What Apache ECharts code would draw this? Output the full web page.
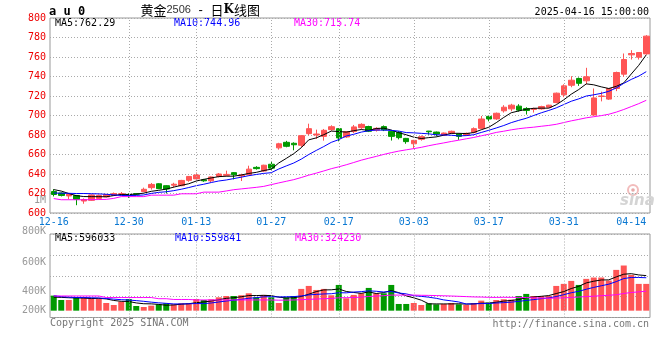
<!DOCTYPE html>
<html><head><meta charset="utf-8">
<script src="https://cdn.jsdelivr.net/npm/echarts@6/dist/echarts.min.js"></script>
<style>html,body{margin:0;padding:0;background:#fff}#c{width:660px;height:360px}</style>
</head><body><div id="c"></div>
<script>
const dates = ['12-16','12-17','12-18','12-19','12-20','12-23','12-24','12-25','12-26','12-27','12-30','12-31',
'01-02','01-03','01-06','01-07','01-08','01-09','01-10','01-13','01-14','01-15','01-16','01-17','01-20','01-21','01-22','01-23','01-24','01-27',
'02-05','02-06','02-07','02-10','02-11','02-12','02-13','02-14','02-17','02-18','02-19','02-20','02-21','02-24','02-25','02-26','02-27','02-28',
'03-03','03-04','03-05','03-06','03-07','03-10','03-11','03-12','03-13','03-14','03-17','03-18','03-19','03-20','03-21','03-24','03-25','03-26','03-27','03-28','03-31',
'04-01','04-02','04-03','04-07','04-08','04-09','04-10','04-11','04-14','04-15','04-16'];

const opens = [622,620.5,617.5,618,612.3,613,615,616.5,618,619.2, 619,619.8,622,626,630,628,628.5,628,633.5,635,
 634,633,637.5,638.6,641.4,638,639.3,646.8,643,650, 666.8,672.5,671.5,669.5,681.4,680,678.6,685.5,686.5,678,
 683.5,687.5,688.7,685,688.6,683.7,682.7,676.5,671,675.6, 684,683,679.7,681.7,681,679.7,682.7,686.8,699.1,696.5,
 704.8,706.8,709.6,707.2,706.2,706.8,708.5,713.3,721.2,731, 738,735.6,700.5,719.5,716.8,727.7,742.4,762.2,759.8,763.2];
const closes = [619,618,619.5,614,613.8,618.5,618,619,620,619.8, 618.5,619.3,624.3,629.3,625,624.6,629.5,633.4,637.5,639,
 633,637,640,639.6,639.3,639,645,645.5,649,646, 671,668.4,670,679.3,686.5,681,684.8,688.5,677,683.5,
 688.3,690.9,683.8,686.8,685.3,678.6,677.3,673.2,674.5,678.3, 683.3,681,682,683.8,678.6,681.7,686.5,696.4,696.4,702.3,
 708.5,710.6,705.5,705.1,707.2,709.2,710.6,722.9,730.4,736.2, 733,739.7,718,720,727.7,744.1,757.4,763.6,764.6,781.4];
const lows = [617,617,614,608,609.5,612.5,614,616,617.5,618, 615.5,618.5,621.5,624,624.5,620,626,627.5,632,633.5,
 632,631.5,636.5,637.6,634.5,632.8,638.5,644.5,642,644.5, 665,667.4,664.3,667.4,679.7,676,674.2,684.4,673.5,677,
 682,686,683,683.5,684,674.3,675.5,671,666,674.2, 680.3,678.6,679,681,675,679,681.7,686,694,695.5,
 703,704.4,704,701,703,706,707.8,712.5,718.8,729, 730.4,732,700,714.5,716,725,739.7,757.4,757.4,762.5];
const highs = [624.5,621,620,618.5,615,619,619,619.5,621,621.5, 620,620.5,626,630.8,630.5,628.5,631,634,638,641.5,
 635,637.5,641,643.4,642,640.3,648.5,648,649.5,652.3, 672,674,672.5,680,691.6,685.5,686.2,690,687,684,
 690.3,692,689.5,688,689.8,684.5,684,677,675,679.5, 684.2,683.5,682.5,684.5,681.5,682.5,687.8,699.5,699.5,703,
 710.6,712,711.6,708.5,708,710,711,723.5,732,740.3, 739,748.9,727.7,724.5,728,745,763.6,767,765,782.4];

const ma5 = [624,622.5,620,617.8,616.86,616.76,616.76,616.66,617.86,619.06, 619.06,619.32,620.38,622.24,623.28,624.5,626.54,628.36,630,632.8,
 634.48,635.98,637.3,637.72,637.78,638.98,640.58,641.68,643.56,644.9, 651.3,655.98,660.88,666.94,675.04,677.04,680.32,684.02,683.56,682.96,
 684.42,685.64,684.7,686.66,687.02,685.08,682.36,680.24,677.78,676.38, 677.32,678.06,679.82,681.68,681.74,681.42,682.52,685.4,687.92,692.66,
 698.02,702.84,704.66,706.4,707.38,707.52,707.52,711,716.06,721.86, 726.62,732.44,731.46,729.38,727.68,729.9,733.44,742.56,751.48,762.22];
const ma10 = [620.5,620.3,620.2,620,620,619.8,619.6,619.2,618.6,617.96, 617.91,618.04,618.52,620.05,621.17,621.78,622.93,624.37,626.12,628.04,
 629.49,631.26,632.83,633.86,635.29,636.73,638.28,639.49,640.64,641.34, 645.14,648.28,651.28,655.25,659.97,664.17,668.15,672.45,675.25,679,
 680.73,682.98,684.36,685.11,684.99,684.75,684,682.47,682.22,681.7, 681.2,680.21,680.03,679.73,679.06,679.37,680.29,682.61,684.8,687.2,
 689.72,692.68,695.03,697.16,700.02,702.77,705.18,707.83,711.23,714.62, 717.07,719.98,721.23,722.72,724.77,728.26,732.94,737.01,740.43,744.95];
const ma30 = [614.8,613.6,613.6,613.6,613.6,613.7,613.8,614,615,616.8, 616.8,616.8,616.8,618.3,618.3,618.3,618.3,619.7,619.7,619.7,
 621.4,621.4,621.4,622.6,623.9,624.7,625.5,626.3,627.3,629.11, 630.85,632.53,634.21,636.39,638.81,640.89,643.12,645.44,647.34,649.46,
 651.79,654.17,656.16,658.07,660.08,661.88,663.48,664.8,666.04,667.35, 669.02,670.49,671.89,673.36,674.67,676.1,677.48,679.18,680.76,682.63,
 683.88,685.29,686.47,687.33,688.02,688.96,689.82,690.97,692.75,694.51, 696,697.62,698.76,699.87,701.28,703.47,706.14,709.15,712.15,715.59];

const volumes = [258000,183000,183000,229000,229000,212000,206000,132000,97000,155000,
 200000,80000,63000,86000,109000,126000,109000,126000,126000,200000,
 183000,195000,229000,252000,252000,264000,298000,229000,270000,229000,
 132000,229000,252000,373000,424000,355000,373000,264000,441000,212000,
 270000,298000,390000,298000,298000,441000,115000,115000,132000,97000,
 126000,109000,115000,132000,109000,97000,132000,172000,138000,183000,
 195000,189000,252000,287000,252000,252000,252000,424000,459000,510000,
 441000,545000,568000,568000,516000,699000,774000,613000,459000,459000];
const vma5 = [232000,228000,222000,218000,216400,207200,211800,201600,175200,160400,
 158000,132800,119000,116800,107600,92800,98600,111200,119200,137400,
 148800,166000,186600,211800,222200,238400,259000,259000,262600,258000,
 231600,217800,222400,243000,282000,326600,355400,357800,371400,329000,
 312000,297000,322200,293600,310800,345000,308400,253400,220200,180000,
 117000,115800,115800,115800,118200,112400,117000,128400,129600,144400,
 164000,175400,191400,221200,235000,246400,259000,293400,327800,379400,
 417200,475800,504600,526400,527600,579200,625000,634000,612200,600800];
const vma10 = [255000,240000,232000,226000,224000,222000,218000,208000,198000,188400,
 182600,172300,160300,146000,134000,125400,115700,115100,118000,122500,
 120800,132300,148900,165500,179800,193600,212500,222800,237200,240100,
 235000,238400,240700,252800,270000,279100,286600,290100,307200,305500,
 319300,326200,340000,332500,319900,328500,302700,287800,256900,245400,
 231000,212100,184600,168000,149100,114700,116400,122100,122700,131300,
 138200,146200,159900,175400,189700,205200,217200,242400,274500,307200,
 331800,367400,399000,427100,453500,498200,550400,569300,569300,564200];
const vma30 = [252000,252000,252000,252000,252000,252000,252000,225000,225000,225000,
 225000,225000,225000,225000,205000,205000,192000,192000,192000,184000,
 184000,184000,184000,184000,184000,184000,184000,184000,184000,183700,
 179500,181000,183300,188100,194600,199400,204900,209300,220800,222700,
 225000,232300,243200,250300,256600,267100,267300,266900,267100,263700,
 261800,258900,255100,251100,246300,240800,235200,233300,228900,227400,
 229500,228200,228200,225300,219600,216100,212100,217400,218000,228000,
 233700,241900,247800,256800,264100,272700,294700,311300,322200,334200];

const xLabelDates = ['12-16','12-30','01-13','01-27','02-17','03-03','03-17','03-31','04-14'];
const gridDates = ['12-30','01-13','01-27','02-17','03-03','03-17','03-31'];
const priceLegend = ['MA5:762.29','MA10:744.96','MA30:715.74'];
const volLegend = ['MA5:596033','MA10:559841','MA30:324230'];
const volTickLabels = ['1M','800K','600K','400K','200K'];

const UP = '#ff5555', DOWN = '#009900';
const MONO = '"DejaVu Sans Mono", "Liberation Mono", monospace';
const maColors = ['#000000','#0000ff','#ff00ff'];
const dotted = {color:'#aaaaaa', type:[1,2], width:1};

const chart = echarts.init(document.getElementById('c'));

const vLine = (xi, yi) => ({
  type:'line', xAxisIndex:xi, yAxisIndex:yi, data: dates.map(()=>null), z:1, silent:true,
  markLine:{silent:true, symbol:['none','none'], label:{show:false}, lineStyle:dotted, animation:false,
    emphasis:{disabled:true}, data: gridDates.map(d=>({xAxis:d}))}
});
const maLine = (data, color, xi, yi) => ({
  type:'line', xAxisIndex:xi, yAxisIndex:yi, data, showSymbol:false, symbol:'none', silent:true, z:4,
  lineStyle:{color, width:1}, itemStyle:{color}
});

const volLabelY = [200, 231.5, 262, 291, 310];
const graphics = [
  {type:'text', x:49, y:11.5, style:{text:'a u 0', font:'bold 12px '+MONO, fill:'#000', verticalAlign:'middle', textVerticalAlign:'middle'}},
  {type:'text', x:140.5, y:10, style:{text:'{a|黄金}{b|2506}{c| - }{a|日}{k|K}{a|线图}', verticalAlign:'middle', textVerticalAlign:'middle',
     rich:{a:{font:'13px "Noto Sans CJK SC"', fill:'#000'}, b:{font:'11px "Liberation Sans"', fill:'#333'},
           c:{font:'13px "Liberation Sans"', fill:'#000', padding:[0,4,0,4]}, k:{font:'bold 12px "DejaVu Serif"', fill:'#000'}}}},
  {type:'text', x:649, y:12, style:{text:'2025-04-16 15:00:00', font:'10px '+MONO, fill:'#000', align:'right', textAlign:'right', verticalAlign:'middle', textVerticalAlign:'middle'}},
  {type:'text', x:50, y:323.5, style:{text:'Copyright 2025 SINA.COM', font:'10px '+MONO, fill:'#777', verticalAlign:'middle', textVerticalAlign:'middle'}},
  {type:'text', x:649, y:324, style:{text:'http://finance.sina.com.cn', font:'10px '+MONO, fill:'#777', align:'right', textAlign:'right', verticalAlign:'middle', textVerticalAlign:'middle'}},
  {type:'circle', shape:{cx:633, cy:190, r:5}, style:{fill:'none', stroke:'#f2bcbc', lineWidth:2}},
  {type:'circle', shape:{cx:633, cy:190, r:1.8}, style:{fill:'#e8a8a8'}},
  {type:'text', x:620, y:201, style:{text:'sina', font:'italic bold 15px "DejaVu Sans"', fill:'#d4d4d4', verticalAlign:'middle', textVerticalAlign:'middle'}}
];
const legX = [55, 174, 294];
priceLegend.forEach((t,i)=>graphics.push({type:'text', x:legX[i], y:23.5, style:{text:t, font:'10px '+MONO, fill:maColors[i], verticalAlign:'middle', textVerticalAlign:'middle'}}));
volLegend.forEach((t,i)=>graphics.push({type:'text', x:legX[i]+(i?1:0), y:238.5, style:{text:t, font:'10px '+MONO, fill:maColors[i], verticalAlign:'middle', textVerticalAlign:'middle'}}));
volTickLabels.forEach((t,i)=>graphics.push({type:'text', x:46, y:volLabelY[i], style:{text:t, font:'10px '+MONO, fill:'#999', align:'right', textAlign:'right', verticalAlign:'middle', textVerticalAlign:'middle'}}));

const option = {
  animation:false,
  backgroundColor:'#fff',
  grid:[
    {left:50, right:10, top:18, height:195, show:true, borderColor:'#999', borderWidth:1},
    {left:50, right:10, top:234, height:83.5, show:true, borderColor:'#999', borderWidth:1}
  ],
  xAxis:[
    {type:'category', gridIndex:0, data:dates, boundaryGap:true, axisLine:{show:false}, axisTick:{show:false}, splitLine:{show:false},
     axisLabel:{interval:(idx,val)=>xLabelDates.includes(val), color:'#0a78d2', fontFamily:MONO, fontSize:10, margin:4}},
    {type:'category', gridIndex:1, data:dates, boundaryGap:true, axisLine:{show:false}, axisTick:{show:false}, splitLine:{show:false}, axisLabel:{show:false}}
  ],
  yAxis:[
    {type:'value', gridIndex:0, min:600, max:800, interval:20, axisLine:{show:false}, axisTick:{show:false},
     axisLabel:{color:'#ee0000', fontFamily:MONO, fontSize:10, margin:4}, splitLine:{lineStyle:dotted}},
    {type:'value', gridIndex:1, min:-116960, max:1314040, interval:357750, axisLine:{show:false}, axisTick:{show:false},
     axisLabel:{show:false}, splitLine:{lineStyle:dotted}}
  ],
  series:[
    vLine(0,0), vLine(1,1),
    {type:'candlestick', xAxisIndex:0, yAxisIndex:0, z:3, barWidth:6, silent:true,
     data: dates.map((d,i)=>[opens[i], closes[i], lows[i], highs[i]]),
     itemStyle:{color:UP, color0:DOWN, borderColor:UP, borderColor0:DOWN, borderWidth:1}},
    maLine(ma5, maColors[0], 0, 0), maLine(ma10, maColors[1], 0, 0), maLine(ma30, maColors[2], 0, 0),
    {type:'bar', xAxisIndex:1, yAxisIndex:1, z:3, barWidth:6, silent:true, data:volumes,
     itemStyle:{color:(p)=> closes[p.dataIndex] >= opens[p.dataIndex] ? UP : DOWN}},
    maLine(vma5, maColors[0], 1, 1), maLine(vma10, maColors[1], 1, 1), maLine(vma30, maColors[2], 1, 1)
  ],
  graphic: graphics
};
chart.setOption(option);
</script></body></html>
